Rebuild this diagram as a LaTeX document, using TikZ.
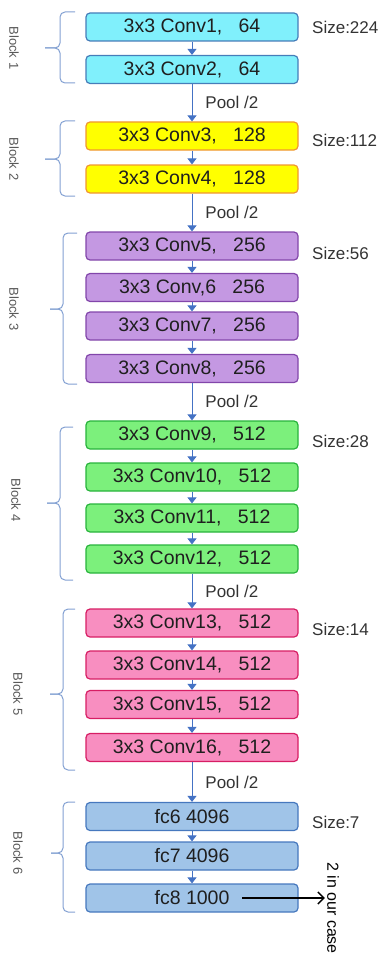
\documentclass[tikz,border=0pt]{standalone}
\usepackage{fontspec}
\setmainfont{Liberation Sans}
\usetikzlibrary{arrows.meta}
\definecolor{cyanfill}{RGB}{128,240,252}
\definecolor{cyanline}{RGB}{70,125,185}
\definecolor{yellowfill}{RGB}{255,255,0}
\definecolor{yellowline}{RGB}{240,150,50}
\definecolor{purplefill}{RGB}{196,152,226}
\definecolor{purpleline}{RGB}{130,70,170}
\definecolor{greenfill}{RGB}{124,240,124}
\definecolor{greenline}{RGB}{40,180,60}
\definecolor{pinkfill}{RGB}{248,142,192}
\definecolor{pinkline}{RGB}{215,30,100}
\definecolor{fcfill}{RGB}{160,196,232}
\definecolor{fcline}{RGB}{70,120,190}
\definecolor{arrowblue}{RGB}{68,114,196}
\definecolor{bracecol}{RGB}{130,160,210}
\begin{document}
\begin{tikzpicture}[
  x=1pt, y=-1pt,
  convbox/.style={
    draw,
    rounded corners=4pt,
    line width=1.2pt,
    minimum width=212pt,
    minimum height=28pt,
    inner sep=0pt,
    text=black!88,
    font=\fontsize{19.5}{22}\selectfont
  },
  cyanbox/.style={convbox, fill=cyanfill, draw=cyanline},
  yellowbox/.style={convbox, fill=yellowfill, draw=yellowline},
  purplebox/.style={convbox, fill=purplefill, draw=purpleline},
  greenbox/.style={convbox, fill=greenfill, draw=greenline},
  pinkbox/.style={convbox, fill=pinkfill, draw=pinkline},
  fcbox/.style={convbox, fill=fcfill, draw=fcline},
  flow/.style={arrowblue, line width=0.9pt, -{Triangle[width=9pt,length=6pt]}},
  pool/.style={midway, anchor=west, xshift=13pt, inner sep=0pt, text=black!80, font=\fontsize{17}{20}\selectfont},
  sizelabel/.style={anchor=west, inner sep=0pt, text=black!80, font=\fontsize{17}{20}\selectfont},
  bracket/.style={bracecol, line width=1pt, rounded corners=5pt},
  blocklabel/.style={rotate=-90, inner sep=0pt, text=black!65, font=\fontsize{13}{15}\selectfont},
  note/.style={rotate=-90, anchor=west, inner sep=0pt, text=black, font=\fontsize{16}{18}\selectfont},
  result/.style={black, line width=1.5pt, -{Straight Barb[length=6pt,width=12pt]}}
]
\useasboundingbox (0,0) rectangle (378,955);

\node[cyanbox] (c1) at (192,27) {3x3 Conv1,\ \ \ 64};
\node[cyanbox] (c2) at (192,69.5) {3x3 Conv2,\ \ \ 64};
\node[yellowbox] (c3) at (192,136) {3x3 Conv3,\ \ \ 128};
\node[yellowbox] (c4) at (192,179) {3x3 Conv4,\ \ \ 128};
\node[purplebox] (c5) at (192,246) {3x3 Conv5,\ \ \ 256};
\node[purplebox] (c6) at (192,287.5) {3x3 Conv,6\ \ \ 256};
\node[purplebox] (c7) at (192,326) {3x3 Conv7,\ \ \ 256};
\node[purplebox] (c8) at (192,368.5) {3x3 Conv8,\ \ \ 256};
\node[greenbox] (c9) at (192,435) {3x3 Conv9,\ \ \ 512};
\node[greenbox] (c10) at (192,477) {3x3 Conv10,\ \ \ 512};
\node[greenbox] (c11) at (192,518) {3x3 Conv11,\ \ \ 512};
\node[greenbox] (c12) at (192,559) {3x3 Conv12,\ \ \ 512};
\node[pinkbox] (c13) at (192,623) {3x3 Conv13,\ \ \ 512};
\node[pinkbox] (c14) at (192,665) {3x3 Conv14,\ \ \ 512};
\node[pinkbox] (c15) at (192,704.5) {3x3 Conv15,\ \ \ 512};
\node[pinkbox] (c16) at (192,747.5) {3x3 Conv16,\ \ \ 512};
\node[fcbox] (fc6) at (192,816.5) {fc6 4096};
\node[fcbox] (fc7) at (192,856) {fc7 4096};
\node[fcbox] (fc8) at (192,898) {fc8 1000};

\draw[flow] (c1) -- (c2);
\draw[flow] (c2) -- node[pool] (p1) {Pool /2} (c3);
\draw[flow] (c3) -- (c4);
\draw[flow] (c4) -- node[pool] (p2) {Pool /2} (c5);
\draw[flow] (c5) -- (c6);
\draw[flow] (c6) -- (c7);
\draw[flow] (c7) -- (c8);
\draw[flow] (c8) -- node[pool] (p3) {Pool /2} (c9);
\draw[flow] (c9) -- (c10);
\draw[flow] (c10) -- (c11);
\draw[flow] (c11) -- (c12);
\draw[flow] (c12) -- node[pool] (p4) {Pool /2} (c13);
\draw[flow] (c13) -- (c14);
\draw[flow] (c14) -- (c15);
\draw[flow] (c15) -- (c16);
\draw[flow] (c16) -- node[pool] (p5) {Pool /2} (fc6);
\draw[flow] (fc6) -- (fc7);
\draw[flow] (fc7) -- (fc8);

\node[sizelabel] (s1) at (312,27) {Size:224};
\node[sizelabel] (s2) at (312,140) {Size:112};
\node[sizelabel] (s3) at (312,253) {Size:56};
\node[sizelabel] (s4) at (312,441) {Size:28};
\node[sizelabel] (s5) at (312,629) {Size:14};
\node[sizelabel] (s6) at (312,822) {Size:7};

\draw[bracket] (75,12) -- (60,12) -- (60,48) -- (45,48);
\draw[bracket] (75,83) -- (60,83) -- (60,48) -- (45,48);
\node[blocklabel] (b1) at (14,48) {Block 1};
\draw[bracket] (75,121) -- (60,121) -- (60,159) -- (45,159);
\draw[bracket] (75,196) -- (60,196) -- (60,159) -- (45,159);
\node[blocklabel] (b2) at (14,159) {Block 2};
\draw[bracket] (77,233) -- (63,233) -- (63,309) -- (50,309);
\draw[bracket] (77,384) -- (63,384) -- (63,309) -- (50,309);
\node[blocklabel] (b3) at (14,309) {Block 3};
\draw[bracket] (73,427) -- (60,427) -- (60,503) -- (47,503);
\draw[bracket] (73,580) -- (60,580) -- (60,503) -- (47,503);
\node[blocklabel] (b4) at (16,500) {Block 4};
\draw[bracket] (75,609) -- (63,609) -- (63,694) -- (50,694);
\draw[bracket] (75,770) -- (63,770) -- (63,694) -- (50,694);
\node[blocklabel] (b5) at (18,694) {Block 5};
\draw[bracket] (75,802) -- (63,802) -- (63,853) -- (51,853);
\draw[bracket] (75,912) -- (63,912) -- (63,853) -- (51,853);
\node[blocklabel] (b6) at (18,853) {Block 6};

\node[note] (n1) at (333,862) {2 in our case};
\draw[result] ([xshift=50pt]fc8.center) -- ([xshift=-2pt]fc8.center -| n1.south);
\end{tikzpicture}
\end{document}
